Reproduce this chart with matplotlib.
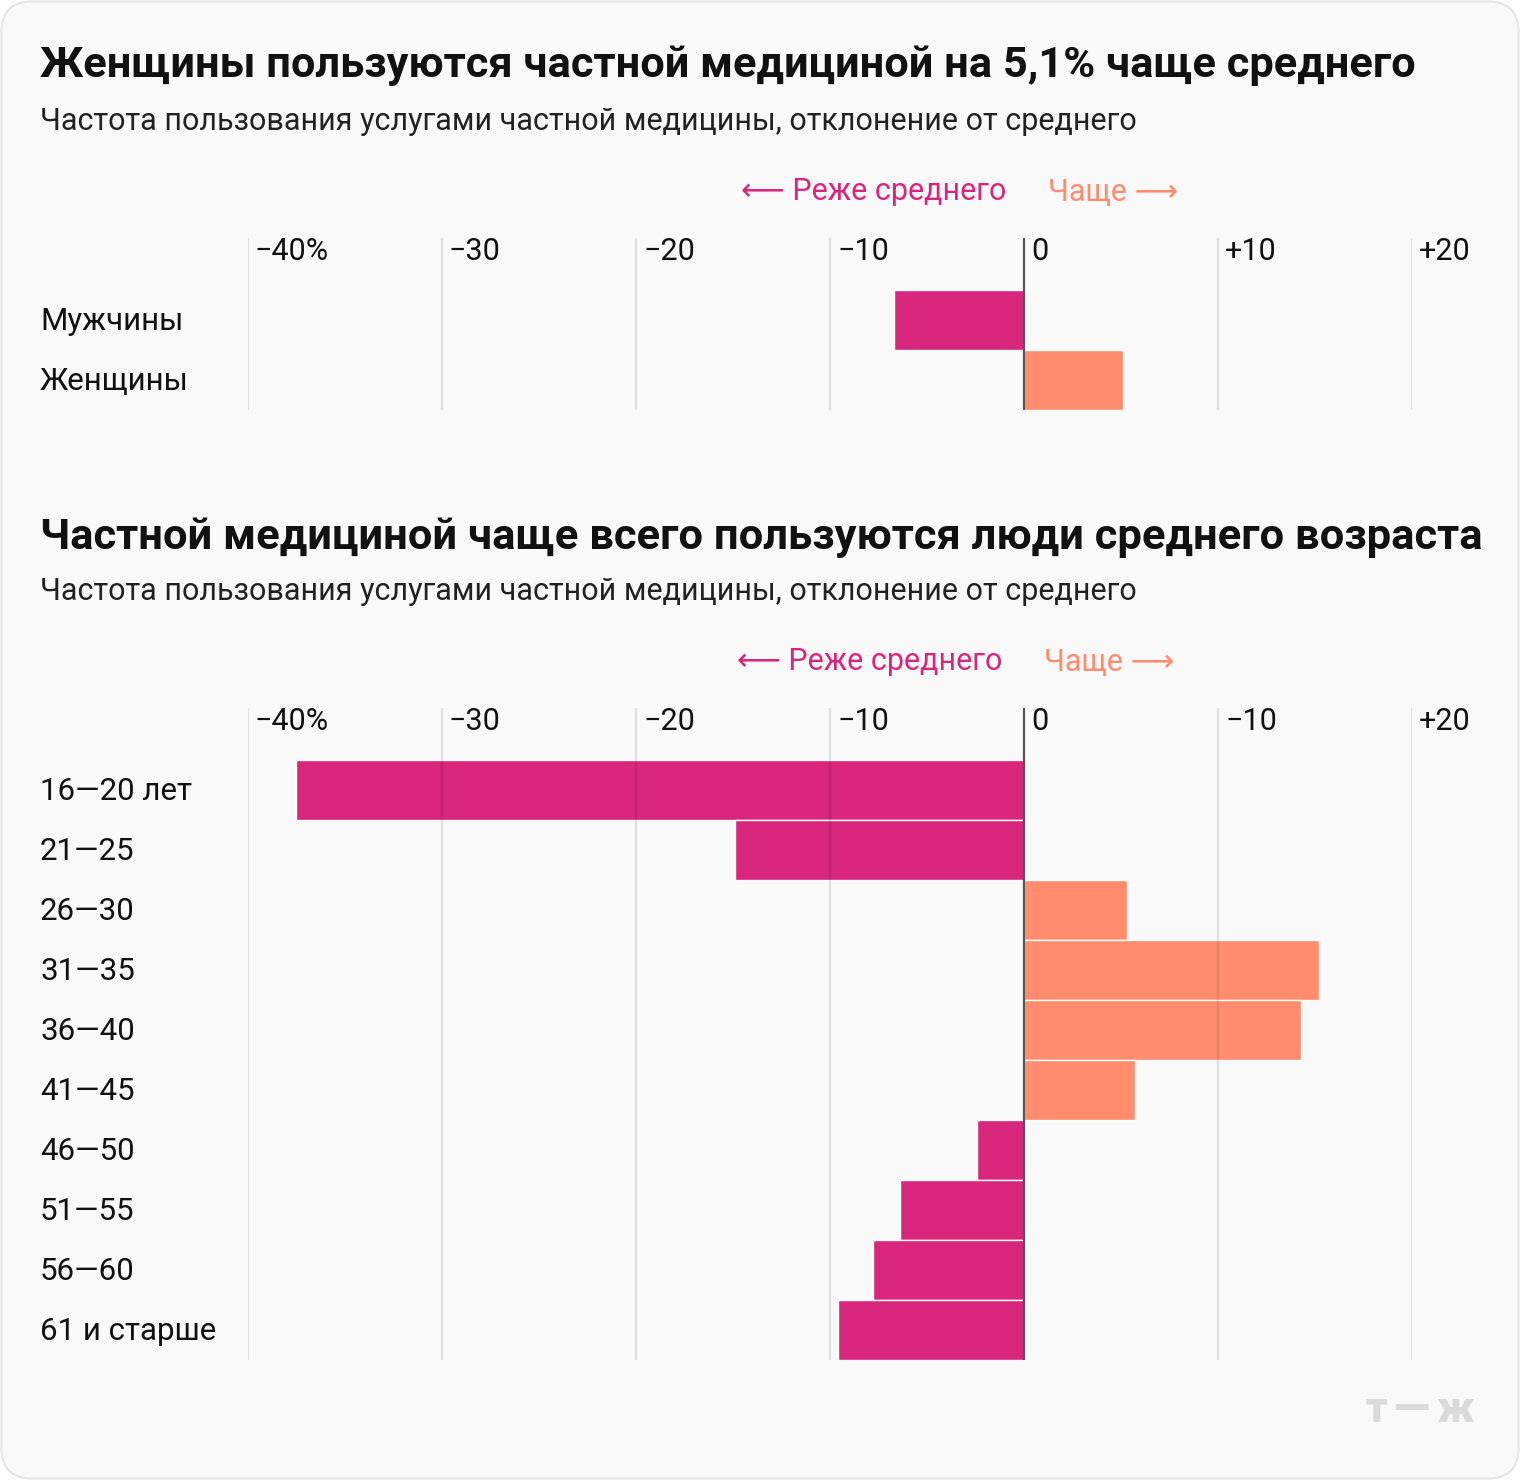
import matplotlib
matplotlib.use("Agg")
import matplotlib.pyplot as plt
from matplotlib.patches import FancyBboxPatch
from matplotlib import transforms

W, H = 1520, 1480
DPI = 100

# ---------------- data ----------------
title1 = "Женщины пользуются частной медициной на 5,1% чаще среднего"
title2 = "Частной медициной чаще всего пользуются люди среднего возраста"
subtitle = "Частота пользования услугами частной медицины, отклонение от среднего"
legend_less = "⟵ Реже среднего"
legend_more = "Чаще ⟶"

gender_labels = ["Мужчины", "Женщины"]
gender_values = [-6.7, 5.1]

age_labels = ["16—20 лет", "21—25", "26—30", "31—35", "36—40",
              "41—45", "46—50", "51—55", "56—60", "61 и старше"]
age_values = [-37.5, -14.9, 5.3, 15.2, 14.3, 5.7, -2.4, -6.4, -7.8, -9.6]

tick_values = [-40, -30, -20, -10, 0, 10, 20]
tick_labels_top = ["−40%", "−30", "−20", "−10", "0", "+10", "+20"]
tick_labels_bottom = ["−40%", "−30", "−20", "−10", "0", "−10", "+20"]

logo_parts = ["т", "—", "ж"]

# ---------------- style ----------------
NEG = "#D8267D"
POS = "#FF8C6D"
BG = "#F9F9F9"
TXT = "#111111"
FONT = ["Roboto", "DejaVu Sans"]
plt.rcParams["font.family"] = FONT

fig = plt.figure(figsize=(W / DPI, H / DPI), dpi=DPI)
fig.patch.set_facecolor("white")

card = FancyBboxPatch((1.5 / W, 1.5 / H), (W - 3) / W, (H - 3) / H,
                      boxstyle="round,pad=0,rounding_size=0.02",
                      transform=fig.transFigure, facecolor=BG,
                      edgecolor="#E4E4E4", linewidth=1.5, zorder=-10,
                      mutation_aspect=W / H)
fig.patches.append(card)

DY = 2  # vertical text correction in px


def fx(x):
    return x / W


def fy(y):
    return 1 - (y + DY) / H


def panel(top_px, labels, values, tick_labels, title, title_y, sub_y, leg_y, leg_dx, tsize):
    n = len(labels)
    row = 60
    first_center = top_px  # center of first bar in px
    ax_top = first_center - 30 - 52
    ax_bot = first_center - 30 + n * row
    x0, x1 = 248, 1412
    ax = fig.add_axes([x0 / W, 1 - ax_bot / H, (x1 - x0) / W, (ax_bot - ax_top) / H])
    ax.set_facecolor("none")
    ax.set_xlim(-40, 20)
    ax.set_ylim(n - 0.5, -0.5 - 52 / row)
    for s in ax.spines.values():
        s.set_visible(False)
    ax.set_xticks([])
    ax.set_yticks([])
    ypos = list(range(n))
    colors = [NEG if v < 0 else POS for v in values]
    ax.barh(ypos, values, height=1.0, color=colors, edgecolor="white",
            linewidth=1.0, zorder=2)
    for t in tick_values:
        if t == 0:
            ax.axvline(t, color="#555555", lw=1.6, zorder=5)
        else:
            ax.axvline(t, color="black", alpha=0.1, lw=1.6, zorder=4)
    off = transforms.offset_copy(ax.transData, fig=fig, x=7, y=-DY, units="dots")
    tick_y = -0.5 - (30 + 10) / row
    for t, lab in zip(tick_values, tick_labels):
        ax.text(t, tick_y, lab, transform=off, ha="left", va="center",
                fontsize=22, color=TXT)
    for i, lab in enumerate(labels):
        fig.text(fx(40), fy(first_center + i * row), lab, ha="left",
                 va="center", fontsize=22.5, color=TXT)
    fig.text(fx(40), fy(title_y), title, ha="left", va="center",
             fontsize=tsize, fontweight="bold", color=TXT)
    fig.text(fx(40), fy(sub_y), subtitle, ha="left", va="center",
             fontsize=22, color="#222222")
    fig.text(fx(1006 + leg_dx), fy(leg_y), legend_less, ha="right",
             va="center", fontsize=22, color=NEG)
    fig.text(fx(1048 + leg_dx), fy(leg_y), legend_more, ha="left",
             va="center", fontsize=22, color=POS)
    return ax


panel(320, gender_labels, gender_values, tick_labels_top, title1, 64, 120, 190, 0, 31.2)
panel(790, age_labels, age_values, tick_labels_bottom, title2, 535, 590, 660, -4, 31.3)

for xc, part, fs in zip([1376, 1412, 1455], logo_parts, [30, 34, 30]):
    fig.text(fx(xc), fy(1408), part, ha="center", va="center", fontsize=fs,
             fontweight="black", color="#DADADA")

fig.savefig("out.png", dpi=DPI, facecolor="white")
